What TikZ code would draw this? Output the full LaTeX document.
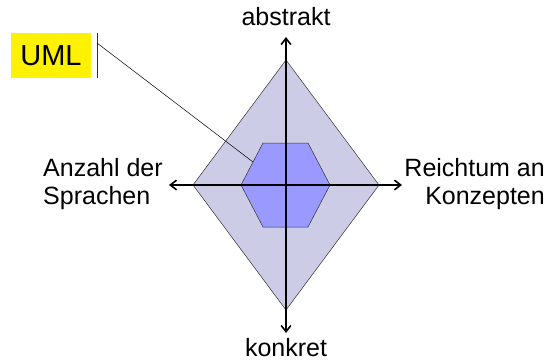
\documentclass[tikz,border=0pt]{standalone}
\usepackage{fontspec}
\setmainfont{Liberation Sans}
\usepackage{tikz}
\usetikzlibrary{arrows.meta,positioning}
\definecolor{cOuter}{HTML}{CCCCE6}
\definecolor{cInner}{HTML}{9999FF}
\definecolor{cEdge}{HTML}{333333}
\tikzset{
  axis/.style={{Straight Barb[length=2.2mm,width=3.4mm]}-{Straight Barb[length=2.2mm,width=3.4mm]}, line width=1.6pt, draw=black},
  area/.style={draw=cEdge, line width=0.5pt},
  lbl/.style={font=\fontsize{25}{28}\selectfont, inner sep=0pt},
  tag/.style={fill=yellow, font=\fontsize{29}{34}\selectfont, minimum width=80pt, minimum height=45pt, inner sep=0pt},
}

\begin{document}
\begin{tikzpicture}[x=1pt,y=-1pt]
        \useasboundingbox (0,0) rectangle (548,361);
        \coordinate (c) at (286,185);
        \coordinate (top) at (286,37); \coordinate (bot) at (286,333);
        \coordinate (lft) at (169,185); \coordinate (rgt) at (402,185);
        % outer diamond and inner hexagon
        \draw[area, fill=cOuter] (286,60) -- (379,185) -- (286,310) -- (193,185) -- cycle;
        \draw[area, fill=cInner] (263,143) -- (308,143) -- (330,185) -- (308,227) -- (263,227) -- (241,185) -- cycle;
        \coordinate (hx) at (253,162);
        \draw[axis] (bot) -- (top);
        \draw[axis] (lft) -- (rgt);
        \node[lbl, anchor=base] (abs) at (286,26) {abstrakt};
        \node[lbl, anchor=base] (kon) at (286,356) {konkret};
        \node[lbl, anchor=west, align=left] (anz) at (43,184.5) {Anzahl der\\Sprachen};
        \node[lbl, anchor=east, align=right] (rei) at (545,184.5) {Reichtum an\\Konzepten};
        % callout
        \node[tag] (uml) at (51,55.5) {UML};
        \coordinate (b1) at (97,33); \coordinate (b2) at (97,78);
        \draw[cEdge, line width=0.6pt] (b1) -- (b2);
        \draw[black, line width=0.5pt] (97,43) -- (hx);
      \end{tikzpicture}
\end{document}
